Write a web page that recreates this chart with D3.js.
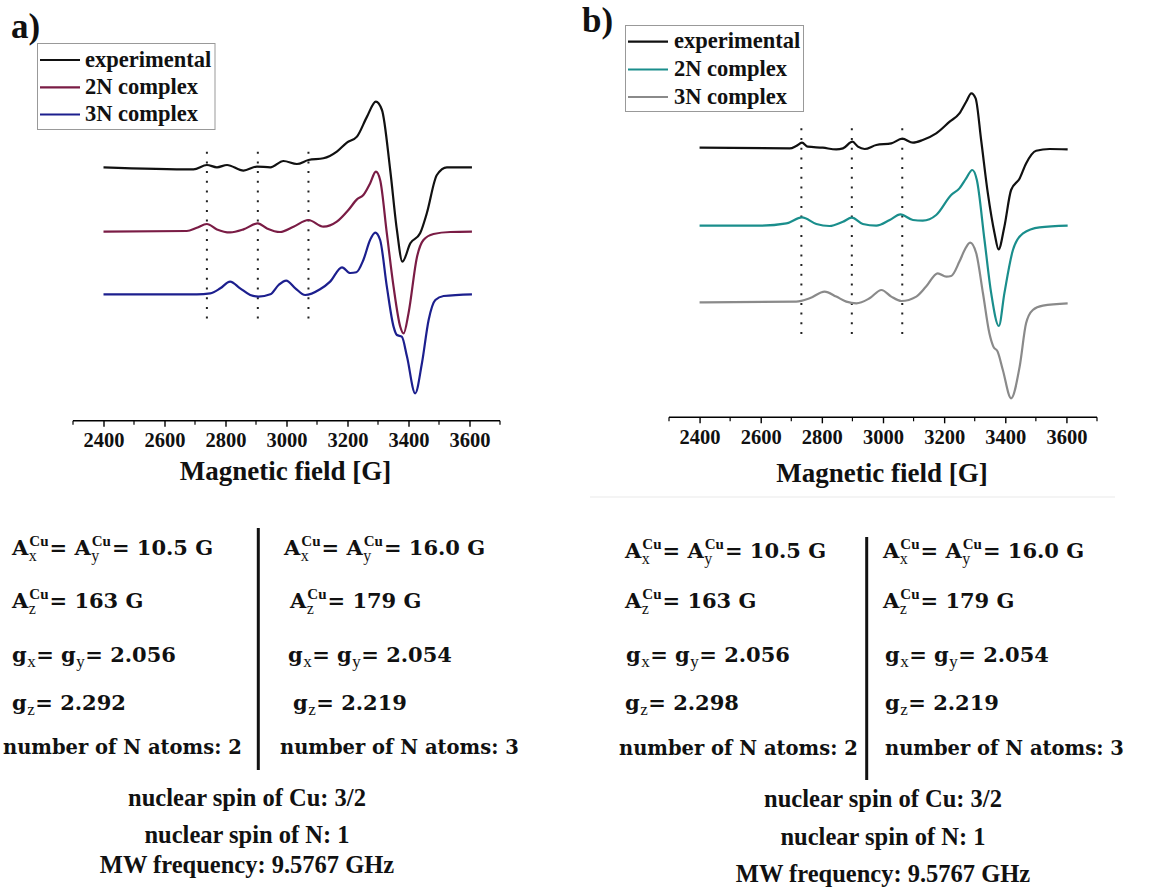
<!DOCTYPE html>
<html><head><meta charset="utf-8">
<script src="https://cdn.jsdelivr.net/npm/d3@7"></script>
<style>body{margin:0;background:#fff}</style>
</head><body>
<svg id="c" width="1170" height="887"></svg>
<script>
// ---------------- DATA ----------------
const seriesNames = ["experimental", "2N complex", "3N complex"];
const colorsA = ["#111111", "#7a1c45", "#1c1f8e"];
const colorsB = ["#111111", "#1a8e8c", "#8a8a8a"];

// Panel a
const expA_field = [2400,2695,2739,2772,2805,2859,2903,2947,2990,3034,3072,3121,3165,3198,3231,3264,3293,3313,3340,3362,3380,3406,3438,3460,3493,3526,3608];
const expA_int   = [0,-2,2.3,0,2.3,-3.3,0.7,0,6.3,3.3,7.3,9,15.7,24.7,30.7,50.7,65.7,57.3,-2.7,-62.7,-94.3,-76,-66,-46,-7.7,0,0];
const n2A_field  = [2400,2673,2706,2739,2772,2815,2859,2906,2936,2979,3023,3072,3121,3165,3203,3231,3252,3274,3293,3307,3329,3351,3373,3384,3400,3428,3449,3482,3537,3608];
const n2A_int    = [0,0.7,4,7.7,2.3,-0.7,2.3,8.3,3.3,-0.3,5,11.7,5,10,21.7,32.3,36.7,48.3,60,51.7,-1.7,-55,-95,-101.7,-81.7,-25,-8.3,-2.3,-0.3,0];
const n3A_field  = [2400,2706,2750,2783,2815,2848,2881,2908,2947,2974,2999,3029,3061,3110,3143,3182,3209,3229,3252,3274,3291,3307,3329,3351,3362,3378,3395,3422,3444,3466,3488,3515,3608];
const n3A_int    = [0,0,1,6,12.7,6,-0.7,-2.3,0,9.3,13.7,6,-0.7,5,12.7,27,21.3,22,34.3,54.3,61.7,54.3,7.7,-32.3,-40.7,-42.3,-62.3,-99,-69,-25.7,-5.7,-1.7,0];
const offsetsA   = [0, -64.4, -127];
const markersA   = [2739, 2906, 3072];

// Panel b
const expB_field = [2400,2695,2716,2735,2754,2803,2847,2869,2900,2918,2940,2978,3027,3063,3098,3130,3174,3218,3250,3272,3289,3303,3321,3343,3365,3378,3397,3419,3447,3468,3501,3545,3604];
const expB_int   = [0,-0.7,1.7,5,1,0,-1.7,-0.7,6,1,-1.3,2.7,4.3,9,5,7.7,14.3,26,34.3,46,54.3,49.3,7.7,-45.7,-85.7,-101.7,-79,-42.3,-30.7,-15.7,-3,-1.3,-1.7];
const n2B_field  = [2400,2596,2684,2735,2782,2825,2869,2898,2934,2978,3022,3057,3098,3130,3174,3223,3250,3272,3292,3307,3332,3354,3379,3397,3425,3458,3512,3604];
const n2B_int    = [0,0,2.3,8.3,1.7,-0.3,4,8,1.7,0,5.7,11.3,5.7,5,10.7,30.7,37.3,47.3,55.7,45.7,-14.3,-67.7,-100.3,-67.7,-24.3,-7.7,-1.7,0];
const n3B_field  = [2400,2716,2760,2809,2847,2880,2913,2956,2995,3027,3060,3109,3141,3179,3207,3223,3250,3267,3285,3305,3327,3348,3361,3375,3392,3419,3447,3468,3490,3523,3604];
const n3B_int    = [0,0.7,4,10.7,5.7,0.7,-1,4,12.3,5.7,1.3,5.7,15.7,29,25.7,26.3,40.7,52.3,59.7,49,9,-31,-44.3,-49.3,-67.7,-96,-64.3,-21,-7.7,-3.3,-1];
const offsetsB   = [0, -78, -154.6];
const markersB   = [2733, 2898, 3063];

const tickMajor = [2400, 2600, 2800, 3000, 3200, 3400, 3600];
const tickMinor = [2300, 2500, 2700, 2900, 3100, 3300, 3500, 3700];
const axisTitle = "Magnetic field [G]";

// parameter tables: [AxAy, Az, gxgy, gz, nN]
const paramsA_left  = ["10.5 G", "163 G", "2.056", "2.292", "2"];
const paramsA_right = ["16.0 G", "179 G", "2.054", "2.219", "3"];
const paramsB_left  = ["10.5 G", "163 G", "2.056", "2.298", "2"];
const paramsB_right = ["16.0 G", "179 G", "2.054", "2.219", "3"];
const footerLines = ["nuclear spin of Cu: 3/2", "nuclear spin of N: 1", "MW frequency: 9.5767 GHz"];

// ---------------- DRAW ----------------
const svg = d3.select("#c");
svg.append("rect").attr("width",1170).attr("height",887).attr("fill","#fff");
const FS = "'Liberation Serif','Times New Roman',serif";
const FB = "'DejaVu Serif',serif";

function panel(cfg) {
  const g = svg.append("g");
  const x = d3.scaleLinear().domain([2300, 3700]).range(cfg.xr);
  const y = d3.scaleLinear().domain([-250, 100]).range([cfg.base + 250, cfg.base - 100]);
  const line = d3.line().x(d => x(d[0])).y(d => y(d[1])).curve(d3.curveMonotoneX);

  g.selectAll(".mk").data(cfg.markers).join("line")
    .attr("x1", d => x(d)).attr("x2", d => x(d))
    .attr("y1", y(cfg.mk[0])).attr("y2", y(cfg.mk[1]))
    .attr("stroke", "#222").attr("stroke-width", 2)
    .attr("stroke-dasharray", "2,7.7");

  cfg.series.forEach((s, i) => {
    const pts = s.f.map((f, j) => [f, s.v[j] + cfg.offsets[i]]);
    g.append("path").attr("d", line(pts)).attr("fill", "none")
      .attr("stroke", cfg.colors[i]).attr("stroke-width", 2.2)
      .attr("stroke-linejoin", "round");
  });

  const ax = g.append("g").attr("transform", `translate(0,${cfg.axisY})`);
  ax.call(d3.axisBottom(x).tickValues(tickMajor).tickSize(6).tickPadding(6).tickFormat(d3.format("d")));
  ax.call(a => a.select(".domain").attr("d", `M${cfg.xr[0]},0H${cfg.xr[1]}`).attr("stroke-width", 1.6));
  ax.selectAll(".tick line").attr("stroke-width", 1.4);
  ax.selectAll(".tick text").attr("font-family", FS).attr("font-weight", "bold").attr("font-size", 20.5).attr("fill", "#111");
  ax.selectAll(".minor").data(tickMinor).join("line").attr("class", "minor")
    .attr("x1", d => x(d)).attr("x2", d => x(d)).attr("y1", 0).attr("y2", 4)
    .attr("stroke", "#000").attr("stroke-width", 1.2);
  g.append("text").attr("x", (cfg.xr[0] + cfg.xr[1]) / 2 - 1).attr("y", cfg.titleY)
    .attr("text-anchor", "middle").attr("font-family", FS).attr("font-weight", "bold")
    .attr("font-size", 27).attr("fill", "#111").text(axisTitle);

  const L = cfg.legend;
  g.append("rect").attr("x", L.x).attr("y", L.y).attr("width", L.w).attr("height", L.h)
    .attr("fill", "#fff").attr("stroke", "#999").attr("stroke-width", 1);
  seriesNames.forEach((n, i) => {
    const yy = L.rows[i];
    g.append("line").attr("x1", L.lx[0]).attr("x2", L.lx[1]).attr("y1", yy).attr("y2", yy)
      .attr("stroke", cfg.colors[i]).attr("stroke-width", 2.2);
    g.append("text").attr("x", L.tx).attr("y", yy + 6.5).attr("font-family", FS)
      .attr("font-weight", "bold").attr("font-size", 22.5).attr("fill", "#111").text(n);
  });
  g.append("text").attr("x", cfg.label.x).attr("y", cfg.label.y).attr("font-family", FS)
    .attr("font-weight", "bold").attr("font-size", 35).attr("fill", "#111").text(cfg.label.t);
}

panel({
  xr: [73, 500], base: 167.3, axisY: 420.7, titleY: 480,
  series: [{f: expA_field, v: expA_int}, {f: n2A_field, v: n2A_int}, {f: n3A_field, v: n3A_int}],
  offsets: offsetsA, colors: colorsA, markers: markersA, mk: [15.6, -152],
  legend: {x: 37.5, y: 43.5, w: 177.5, h: 86, lx: [40, 80], tx: 85, rows: [60, 87.3, 114.5]},
  label: {x: 11, y: 38, t: "a)"}
});
panel({
  xr: [669, 1097], base: 147.7, axisY: 417.3, titleY: 482,
  series: [{f: expB_field, v: expB_int}, {f: n2B_field, v: n2B_int}, {f: n3B_field, v: n3B_int}],
  offsets: offsetsB, colors: colorsB, markers: markersB, mk: [19.4, -189],
  legend: {x: 625.5, y: 25.5, w: 178, h: 86, lx: [628, 668], tx: 674, rows: [41.7, 69.5, 97]},
  label: {x: 582, y: 32, t: "b)"}
});

svg.append("line").attr("x1", 590).attr("x2", 1115).attr("y1", 497).attr("y2", 497)
  .attr("stroke", "#f0f0f0").attr("stroke-width", 1.5);

// ---------------- TEXT BLOCKS ----------------
const meas = svg.append("text").attr("x", -1000).attr("y", -1000);
function width(t, fam, wt, sz) {
  meas.attr("font-family", fam).attr("font-weight", wt).attr("font-size", sz).text(t);
  return meas.node().getComputedTextLength();
}
const MAIN = 21, SUB = 15, SUP = 15;
// one <text> per row, with absolutely placed tspans
function rich(x, y, segs, mainSize) {
  const ms = mainSize || MAIN;
  const t = svg.append("text").attr("x", x).attr("y", y).attr("fill", "#111");
  let cx = x;
  const add = (s, xx, yy, fam, wt, sz) => {
    t.append("tspan").attr("x", xx).attr("y", yy).attr("font-family", fam)
      .attr("font-weight", wt).attr("font-size", sz).text(s);
    return width(s, fam, wt, sz);
  };
  segs.forEach(s => {
    if (s.n !== undefined) cx += add(s.n, cx, y, FB, "bold", ms);
    else if (s.sub !== undefined && s.sup !== undefined) {
      const w1 = add(s.sub, cx + 0.5, y + 6, FS, "normal", SUB + 1);
      const w2 = add(s.sup, cx + 1, y - 9, FS, "bold", SUP);
      cx += Math.max(w1, w2) + 2;
    } else if (s.sub !== undefined) cx += add(s.sub, cx + 0.5, y + 5, FS, "normal", SUB + 2) + 1;
  });
}
function column(x0s, ys, vals) {
  rich(x0s[0], ys[0], [{n: "A"}, {sub: "x", sup: "Cu"}, {n: "= A"}, {sub: "y", sup: "Cu"}, {n: "= " + vals[0]}]);
  rich(x0s[1], ys[1], [{n: "A"}, {sub: "z", sup: "Cu"}, {n: "= " + vals[1]}]);
  rich(x0s[2], ys[2], [{n: "g"}, {sub: "x"}, {n: "= g"}, {sub: "y"}, {n: "= " + vals[2]}]);
  rich(x0s[3], ys[3], [{n: "g"}, {sub: "z"}, {n: "= " + vals[3]}]);
  rich(x0s[4], ys[4], [{n: "number of N atoms: " + vals[4]}], 19.5);
}
column([12, 12, 12, 12, 3], [555, 608, 662, 710, 754], paramsA_left);
column([284, 290, 288, 293, 280], [555, 608, 662, 710, 754], paramsA_right);
column([625, 625, 626, 625, 619], [558, 608, 662, 710, 755], paramsB_left);
column([883, 883, 885, 885, 885], [558, 608, 662, 710, 755], paramsB_right);
meas.remove();

svg.append("line").attr("x1", 258.3).attr("x2", 258.3).attr("y1", 528).attr("y2", 770)
  .attr("stroke", "#111").attr("stroke-width", 3);
svg.append("line").attr("x1", 866.7).attr("x2", 866.7).attr("y1", 537).attr("y2", 780)
  .attr("stroke", "#111").attr("stroke-width", 3);

function footer(cx, ys) {
  footerLines.forEach((t, i) => {
    svg.append("text").attr("x", cx).attr("y", ys[i]).attr("text-anchor", "middle")
      .attr("font-family", FS).attr("font-weight", "bold").attr("font-size", 24.5)
      .attr("fill", "#111").text(t);
  });
}
footer(247, [806, 843, 873]);
footer(883, [807, 845, 882]);
</script>
</body></html>
